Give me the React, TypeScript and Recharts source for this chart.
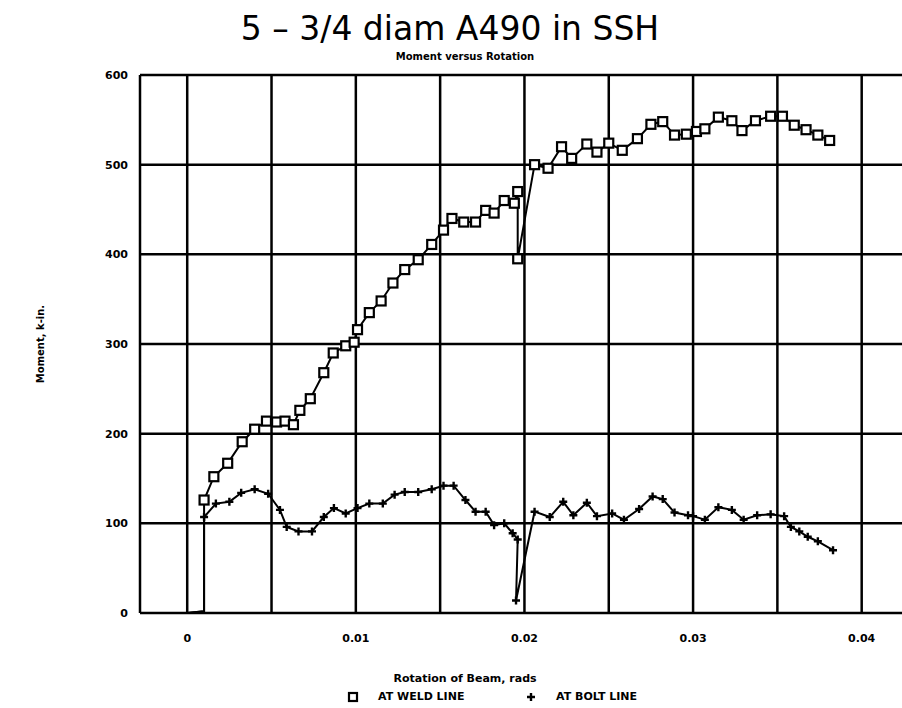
import { LineChart, Line, XAxis, YAxis, CartesianGrid, Legend } from "recharts";

// rotation (rads) and moment (k-in.)
const weldRotation = [
  0, 0.001, 0.001, 0.00158, 0.0024, 0.00326, 0.004, 0.0047, 0.0053, 0.0058,
  0.0063, 0.00668, 0.0073, 0.0081, 0.00866, 0.0094, 0.0099, 0.0101, 0.0108,
  0.0115, 0.0122, 0.0129, 0.0137, 0.0145, 0.0152, 0.0157, 0.0164, 0.0171,
  0.0177, 0.0182, 0.0188, 0.0194, 0.0196, 0.0196, 0.0206, 0.0214, 0.0222,
  0.0228, 0.0237, 0.0243, 0.025, 0.0258, 0.0267, 0.0275, 0.0282, 0.0289,
  0.0296, 0.0302, 0.0307, 0.0315, 0.0323, 0.0329, 0.0337, 0.0346, 0.0353,
  0.036, 0.0367, 0.0374, 0.0381,
];
const weldMoment = [
  0, 2, 126, 152, 167, 191, 205, 214, 213, 214, 210, 226, 239, 268, 290, 298,
  302, 316, 335, 348, 368, 383, 394, 411, 427, 440, 436, 436, 449, 446, 460,
  457, 470, 395, 500, 496, 520, 507, 523, 514, 524, 516, 529, 545, 548, 533,
  534, 537, 540, 553, 549, 538, 549, 554, 554, 544, 539, 533, 527,
];

const boltRotation = [
  0, 0.001, 0.001, 0.0017, 0.0025, 0.0032, 0.004, 0.0048, 0.0055, 0.0059,
  0.0066, 0.0074, 0.0081, 0.0087, 0.0094, 0.0101, 0.0108, 0.0116, 0.0123,
  0.0129, 0.0137, 0.0145, 0.0152, 0.0158, 0.0165, 0.0171, 0.0177, 0.0182,
  0.0188, 0.0193, 0.0196, 0.0195, 0.0206, 0.0215, 0.0223, 0.0229, 0.0237,
  0.0243, 0.0252, 0.0259, 0.0268, 0.0276, 0.0282, 0.0289, 0.0297, 0.03,
  0.0307, 0.0315, 0.0323, 0.033, 0.0338, 0.0346, 0.0354, 0.0358, 0.0363,
  0.0368, 0.0374, 0.0383,
];
const boltMoment = [
  0, 2, 107, 122, 124, 134, 138, 133, 115, 96, 91, 91, 107, 117, 111, 117,
  122, 122, 132, 135, 135, 138, 142, 142, 126, 113, 113, 98, 100, 89, 82, 14,
  113, 107, 124, 109, 123, 108, 111, 104, 116, 130, 127, 112, 109, 108, 104,
  118, 115, 104, 109, 110, 108, 96, 91, 85, 80, 70,
];

const xTicks = [-0.0028, 0, 0.005, 0.01, 0.015, 0.02, 0.025, 0.03, 0.035, 0.04, 0.045];
const xLabels: Record<string, string> = { "0": "0", "0.01": "0.01", "0.02": "0.02", "0.03": "0.03", "0.04": "0.04" };
const yTicks = [0, 100, 200, 300, 400, 500, 600];

const weld = weldRotation.map((x, i) => ({ x, m: weldMoment[i] }));
const bolt = boltRotation.map((x, i) => ({ x, m: boltMoment[i] }));

const FONT = "'DejaVu Sans', sans-serif";

function SquareDot(props: any) {
  const { cx, cy, index } = props;
  if (index < 2) return <g key={index} />;
  return (
    <rect key={index} x={cx - 4.5} y={cy - 4.5} width={9} height={9} fill="#fff" stroke="#000" strokeWidth={2.2} />
  );
}

function PlusDot(props: any) {
  const { cx, cy, index } = props;
  if (index < 2) return <g key={index} />;
  return (
    <path key={index} d={`M${cx - 4},${cy}H${cx + 4}M${cx},${cy - 4}V${cy + 4}`} stroke="#000" strokeWidth={2.4} />
  );
}

function LegendRow() {
  const txt = { position: "absolute" as const, top: 4, fontFamily: FONT, fontWeight: 700, fontSize: 11, color: "#000", whiteSpace: "nowrap" as const };
  return (
    <div style={{ position: "relative", height: 22, width: 902 }}>
      <svg style={{ position: "absolute", left: 0, top: 0 }} width={902} height={22}>
        <rect x={349} y={7} width={8} height={8} fill="#fff" stroke="#000" strokeWidth={2.2} />
        <path d="M527,11H535M531,7V15" stroke="#000" strokeWidth={2.4} />
      </svg>
      <span style={{ ...txt, left: 378 }}>AT WELD LINE</span>
      <span style={{ ...txt, left: 556 }}>AT BOLT LINE</span>
    </div>
  );
}

export default function App() {
  return (
    <div style={{ position: "fixed", left: 0, top: 0, width: 902, height: 708, overflow: "hidden", background: "#fff" }}>
      <div style={{ position: "absolute", top: 9, left: 0, width: 900, textAlign: "center", fontFamily: FONT, fontSize: 33 }}>
        5 – 3/4 diam A490 in SSH
      </div>
      <div style={{ position: "absolute", top: 51, left: 0, width: 930, textAlign: "center", fontFamily: FONT, fontWeight: 700, fontSize: 10 }}>
        Moment versus Rotation
      </div>
      <LineChart width={960} height={708} margin={{ top: 75, right: 14, bottom: 0, left: 10 }}>
        <CartesianGrid stroke="#000" strokeWidth={2.5} />
        <XAxis
          type="number"
          dataKey="x"
          domain={[-0.0028, 0.045]}
          ticks={xTicks}
          interval={0}
          axisLine={false}
          tickLine={false}
          tickFormatter={(v: number) => xLabels[String(v)] ?? ""}
          tick={{ fill: "#000", fontFamily: FONT, fontWeight: 700, fontSize: 11 }}
          tickMargin={15}
          height={73}
          label={{
            content: () => (
              <text x={465} y={682} textAnchor="middle" fill="#000" fontFamily={FONT} fontWeight={700} fontSize={11}>
                Rotation of Beam, rads
              </text>
            ),
          }}
        />
        <YAxis
          type="number"
          domain={[0, 600]}
          ticks={yTicks}
          interval={0}
          axisLine={false}
          tickLine={false}
          tick={{ fill: "#000", fontFamily: FONT, fontWeight: 700, fontSize: 11 }}
          tickMargin={6}
          width={130}
          label={{
            content: () => (
              <text x={44} y={344} transform="rotate(-90 44 344)" textAnchor="middle" fill="#000" fontFamily={FONT} fontWeight={700} fontSize={10}>
                Moment, k-in.
              </text>
            ),
          }}
        />
        <Legend verticalAlign="bottom" height={22} wrapperStyle={{ left: 0, width: 902 }} content={() => <LegendRow />} />
        <Line data={weld} dataKey="m" type="linear" stroke="#000" strokeWidth={2} dot={SquareDot} isAnimationActive={false} legendType="none" />
        <Line data={bolt} dataKey="m" type="linear" stroke="#000" strokeWidth={2} dot={PlusDot} isAnimationActive={false} legendType="none" />
      </LineChart>
    </div>
  );
}
